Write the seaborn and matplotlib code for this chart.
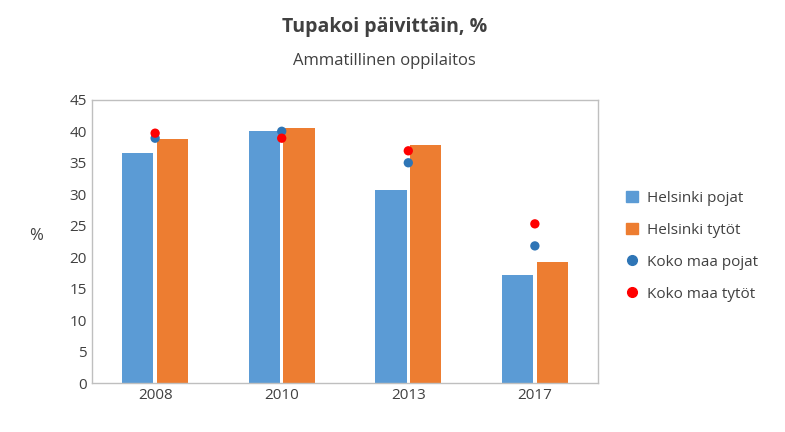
import matplotlib
matplotlib.use("Agg")
import matplotlib.pyplot as plt
import seaborn as sns
import pandas as pd
from matplotlib.lines import Line2D
from matplotlib.patches import Patch

years = ["2008", "2010", "2013", "2017"]
hki_pojat = [36.6, 40.0, 30.6, 17.2]
hki_tytot = [38.8, 40.6, 37.9, 19.2]
koko_pojat = [38.9, 40.0, 35.0, 21.8]
koko_tytot = [39.7, 38.9, 36.9, 25.3]

plt.rcParams["font.family"] = "Open Sans"
fig = plt.figure(figsize=(7.85, 4.32), dpi=100)
ax = fig.add_axes([0.117, 0.113, 0.645, 0.656])

df = pd.DataFrame({
    "year": years * 2,
    "value": hki_pojat + hki_tytot,
    "group": ["Helsinki pojat"] * 4 + ["Helsinki tytöt"] * 4,
})
sns.barplot(data=df, x="year", y="value", hue="group", order=years,
            palette=["#5B9BD5", "#ED7D31"], width=0.55, gap=0.1,
            legend=False, ax=ax, saturation=1)
xs = list(range(len(years)))
sns.scatterplot(x=xs, y=koko_pojat, color="#2E75B6", s=45, edgecolor="none", ax=ax, zorder=5)
sns.scatterplot(x=xs, y=koko_tytot, color="#FF0000", s=45, edgecolor="none", ax=ax, zorder=5)

ax.set_xlim(-0.5, 3.5)
ax.set_ylim(0, 45)
ax.set_yticks(range(0, 46, 5))
ax.set_xlabel("")
ax.set_ylabel("%", rotation=0, fontsize=12, color="#404040", labelpad=14)
ax.yaxis.set_label_coords(-0.11, 0.49)
ax.tick_params(labelsize=11, colors="#404040", length=0)
for s in ax.spines.values():
    s.set_color("#BFBFBF")
    s.set_linewidth(1)

fig.text(0.49, 0.925, "Tupakoi päivittäin, %", ha="center", fontsize=14, fontweight="bold", color="#404040")
fig.text(0.49, 0.85, "Ammatillinen oppilaitos", ha="center", fontsize=12, color="#404040")

handles = [
    Patch(color="#5B9BD5", label="Helsinki pojat"),
    Patch(color="#ED7D31", label="Helsinki tytöt"),
    Line2D([], [], marker="o", ls="none", color="#2E75B6", markersize=7, label="Koko maa pojat"),
    Line2D([], [], marker="o", ls="none", color="#FF0000", markersize=7, label="Koko maa tytöt"),
]
fig.legend(handles=handles, loc="center left", bbox_to_anchor=(0.78, 0.43), frameon=False,
           fontsize=11, labelcolor="#404040", handlelength=0.8, handleheight=0.8,
           labelspacing=1.1, handletextpad=0.6)

fig.savefig("out.png", dpi=100)
